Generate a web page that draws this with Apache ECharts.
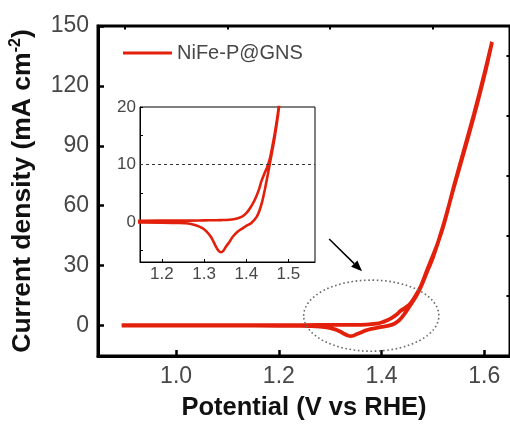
<!DOCTYPE html>
<html>
<head>
<meta charset="utf-8">
<script src="https://cdn.jsdelivr.net/npm/echarts@6/dist/echarts.min.js"></script>
<style>
html,body{margin:0;padding:0;background:#fff;}
#c{width:510px;height:426px;}
</style>
</head>
<body>
<div id="c"></div>
<script>
// ---- data (potential V vs RHE, current density mA cm^-2) ----
const seriesName = 'NiFe-P@GNS';
const fwdV = [0.894, 1.00, 1.10, 1.20, 1.25, 1.30, 1.34, 1.37, 1.39, 1.40, 1.41, 1.42, 1.43, 1.436, 1.443, 1.45, 1.456, 1.462, 1.468, 1.476, 1.489, 1.50, 1.509, 1.52, 1.528, 1.541, 1.56, 1.58, 1.60, 1.615];
const fwdJ = [0.1, 0.1, 0.15, 0.2, 0.2, 0.25, 0.3, 0.45, 0.9, 1.5, 2.5, 3.8, 5.6, 7.1, 8.4, 9.6, 11.0, 13.2, 15.6, 19.5, 28.0, 35.0, 41.0, 49.5, 57.0, 70.0, 87.5, 106.0, 126.0, 142.0];
const revV = [1.615, 1.60, 1.58, 1.56, 1.54, 1.52, 1.50, 1.488, 1.476, 1.468, 1.462, 1.456, 1.45, 1.444, 1.438, 1.432, 1.425, 1.412, 1.40, 1.392, 1.38, 1.368, 1.36, 1.352, 1.346, 1.34, 1.334, 1.328, 1.322, 1.316, 1.306, 1.296, 1.28, 1.263, 1.24, 1.20, 1.10, 1.00, 0.894];
const revJ = [142, 125, 105, 86.5, 68.5, 50, 34, 26.5, 19, 15, 12.5, 10.2, 7.8, 5.6, 3.6, 2.1, 0.9, -0.2, -0.7, -1.1, -1.7, -2.6, -3.5, -4.3, -5.0, -5.3, -5.0, -4.3, -3.4, -2.6, -1.7, -1.1, -0.6, -0.3, -0.2, -0.15, -0.1, -0.05, -0.05];

// tick labels
const mainXTicks = [1.0, 1.2, 1.4, 1.6];
const mainXMinor = [0.9, 1.1, 1.3, 1.5];
const mainYTicks = [0, 30, 60, 90, 120, 150];
const mainYMinor = [15, 45, 75, 105, 135];
const insetXTicks = [1.2, 1.3, 1.4, 1.5];
const insetYTicks = [-5, 0, 5, 10, 15, 20];
const insetYLabels = [0, 10, 20];
const refLine = 10;

// annotation (data coords)
const ellipseCenter = [1.380, 4.9];
const ellipseRadius = [0.1316, 17.8];
const arrowFrom = [1.298, 43.3];
const arrowTo = [1.362, 27.1];

const loop = fwdV.map((v, i) => [v, fwdJ[i]]).concat(revV.map((v, i) => [v, revJ[i]]));

const FF = '"Liberation Sans", Arial, Helvetica, sans-serif';
const RED = '#e3200b';
const LBL = '#474747';

const chart = echarts.init(document.getElementById('c'), null, {renderer: 'canvas'});
const opt = {
  animation: false,
  backgroundColor: '#fff',
  textStyle: {fontFamily: FF},
  legend: {
    data: [seriesName], left: 123, top: 43, padding: 0,
    icon: 'rect', itemWidth: 49, itemHeight: 3,
    itemStyle: {color: RED},
    textStyle: {fontSize: 20, color: LBL, fontFamily: FF}
  },
  grid: [
    {left: 97, top: 26, width: 416, height: 335, show: true, borderColor: '#000', borderWidth: 3, backgroundColor: 'transparent'},
    {left: 140, top: 107, width: 175, height: 155, show: true, borderColor: '#000', borderWidth: 1, backgroundColor: '#fff'}
  ],
  xAxis: [
    {type: 'value', gridIndex: 0, min: 0.848, max: 1.65,
     axisLine: {onZero: false, lineStyle: {color: '#000', width: 3}},
     axisTick: {show: true, inside: true, length: 6, lineStyle: {color: '#000', width: 2.5}, customValues: mainXTicks},
     axisLabel: {customValues: mainXTicks, formatter: v => v.toFixed(1), fontSize: 23, color: LBL, margin: 9, fontFamily: FF},
     splitLine: {show: false},
     name: 'Potential (V vs RHE)', nameLocation: 'middle', nameGap: 39,
     nameTextStyle: {fontSize: 25.5, fontWeight: 'bold', color: '#111', fontFamily: FF}},
    {type: 'value', gridIndex: 0, min: 0.848, max: 1.65,
     axisLine: {show: false, onZero: false},
     axisTick: {show: true, inside: true, length: 3.5, lineStyle: {color: '#000', width: 2}, customValues: mainXMinor},
     axisLabel: {show: false}, splitLine: {show: false}},
    {type: 'value', gridIndex: 1, min: 1.148, max: 1.563,
     axisLine: {onZero: false, lineStyle: {color: '#000', width: 1}},
     axisTick: {show: true, inside: true, length: 3, lineStyle: {color: '#000', width: 1}, customValues: insetXTicks},
     axisLabel: {customValues: insetXTicks, formatter: v => v.toFixed(1), fontSize: 17, color: LBL, margin: 4, fontFamily: FF},
     splitLine: {show: false}}
  ],
  yAxis: [
    {type: 'value', gridIndex: 0, min: -15.3, max: 150,
     axisLine: {onZero: false, lineStyle: {color: '#000', width: 3}},
     axisTick: {show: true, inside: true, length: 6, lineStyle: {color: '#000', width: 2.5}, customValues: mainYTicks},
     axisLabel: {customValues: mainYTicks, fontSize: 23, color: LBL, margin: 9, fontFamily: FF},
     splitLine: {show: false},
     name: '{b|Current density (mA cm}{s|-2}{b|)}', nameLocation: 'middle', nameGap: 60,
     nameTextStyle: {fontSize: 26.5, fontWeight: 'bold', color: '#111', fontFamily: FF,
       rich: {
         b: {fontSize: 26.5, fontWeight: 'bold', color: '#111', fontFamily: FF, lineHeight: 30},
         s: {fontSize: 16, fontWeight: 'bold', color: '#111', fontFamily: FF, lineHeight: 15, verticalAlign: 'top'}
       }}},
    {type: 'value', gridIndex: 0, min: -15.3, max: 150,
     axisLine: {show: false, onZero: false},
     axisTick: {show: true, inside: true, length: 3.5, lineStyle: {color: '#000', width: 2}, customValues: mainYMinor},
     axisLabel: {show: false}, splitLine: {show: false}},
    {type: 'value', gridIndex: 1, min: -7, max: 20,
     axisLine: {onZero: false, lineStyle: {color: '#000', width: 1}},
     axisTick: {show: true, inside: true, length: 3, lineStyle: {color: '#000', width: 1}, customValues: insetYTicks},
     axisLabel: {customValues: insetYLabels, fontSize: 17, color: LBL, margin: 4, fontFamily: FF},
     splitLine: {show: false}}
  ],
  series: [
    {name: seriesName, type: 'line', xAxisIndex: 0, yAxisIndex: 0, data: loop,
     showSymbol: false, symbol: 'none', smooth: 0.3, clip: true,
     lineStyle: {color: RED, width: 3.8}, itemStyle: {color: RED}},
    {name: 'inset', type: 'line', xAxisIndex: 2, yAxisIndex: 2, data: loop,
     showSymbol: false, symbol: 'none', smooth: 0.3, clip: true,
     lineStyle: {color: RED, width: 2.6}, itemStyle: {color: RED},
     markLine: {silent: true, symbol: ['none', 'none'], label: {show: false},
       lineStyle: {color: '#333', type: [3, 3], width: 1.2},
       data: [{yAxis: refLine}]}}
  ]
};
chart.setOption(opt);

// annotation ellipse and arrow positioned through the main axes
const c0 = chart.convertToPixel({xAxisIndex: 0, yAxisIndex: 0}, ellipseCenter);
const cr = chart.convertToPixel({xAxisIndex: 0, yAxisIndex: 0}, [ellipseCenter[0] + ellipseRadius[0], ellipseCenter[1] + ellipseRadius[1]]);
const a0 = chart.convertToPixel({xAxisIndex: 0, yAxisIndex: 0}, arrowFrom);
const a1 = chart.convertToPixel({xAxisIndex: 0, yAxisIndex: 0}, arrowTo);
const dx = a1[0] - a0[0], dy = a1[1] - a0[1];
const L = Math.hypot(dx, dy), ux = dx / L, uy = dy / L;
const hl = 11, hw = 4.5;
const base = [a1[0] - ux * hl, a1[1] - uy * hl];
chart.setOption({
  graphic: [
    {type: 'ellipse', z: 100,
     shape: {cx: c0[0], cy: c0[1], rx: Math.abs(cr[0] - c0[0]), ry: Math.abs(cr[1] - c0[1])},
     style: {fill: null, stroke: '#6a6a6a', lineWidth: 1.6, lineDash: [1.6, 2.6]}},
    {type: 'line', z: 100,
     shape: {x1: a0[0], y1: a0[1], x2: base[0], y2: base[1]},
     style: {stroke: '#000', lineWidth: 1.5}},
    {type: 'polygon', z: 100,
     shape: {points: [a1, [base[0] - uy * hw, base[1] + ux * hw], [base[0] + uy * hw, base[1] - ux * hw]]},
     style: {fill: '#000'}}
  ]
});
</script>
</body>
</html>
